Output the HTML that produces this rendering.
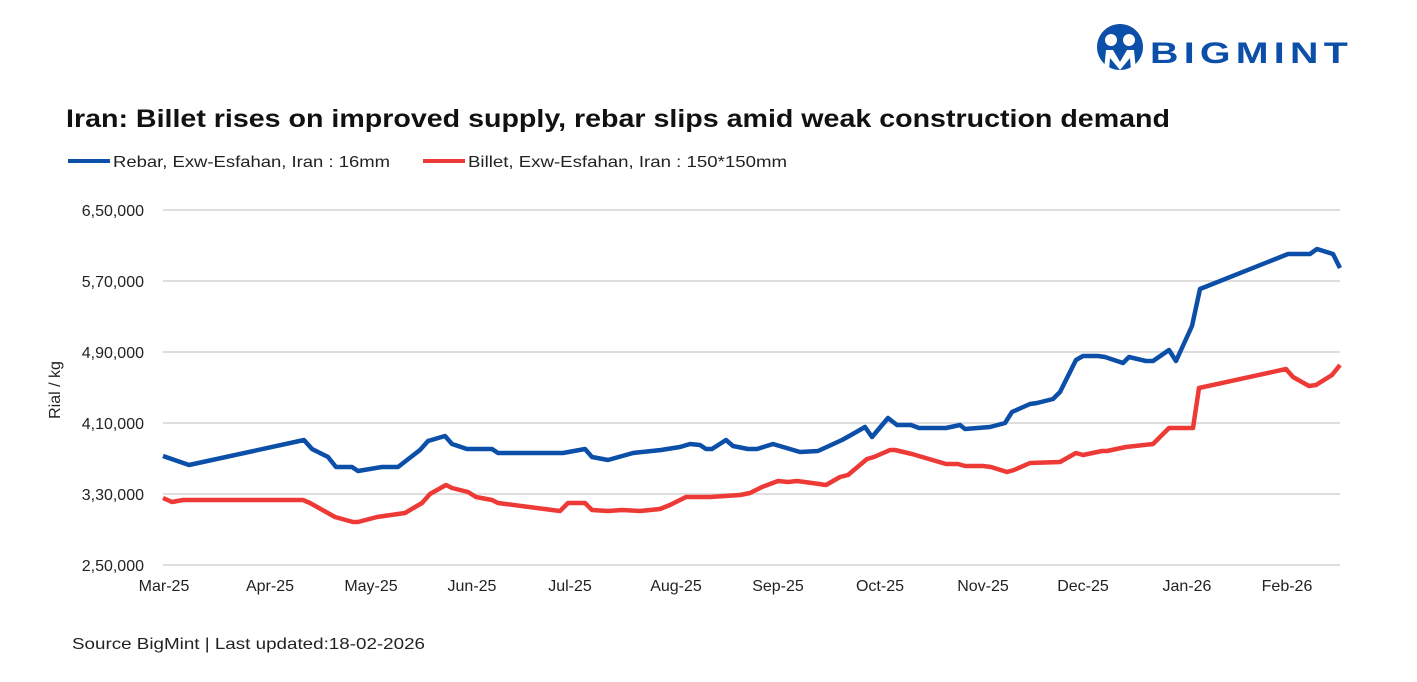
<!DOCTYPE html>
<html><head><meta charset="utf-8"><style>
body{margin:0;background:#fff;}
svg text{font-family:"Liberation Sans",Arial,sans-serif;}
</style></head><body>
<svg width="1417" height="677" viewBox="0 0 1417 677" xmlns="http://www.w3.org/2000/svg">
<rect width="1417" height="677" fill="#fff"/>
<circle cx="1120" cy="47" r="23" fill="#0b4fa8"/>
<circle cx="1111" cy="40" r="6" fill="#fff"/>
<circle cx="1129" cy="40" r="6" fill="#fff"/>
<path d="M1104 70 L1106 50 L1113 50 L1120 62 L1127 50 L1134 50 L1136 70 L1131 70 L1130 58 L1120 70 L1110 58 L1109 70 Z" fill="#fff"/>
<text x="1150" y="63" font-size="30" font-weight="bold" fill="#0b4fa8" textLength="203" lengthAdjust="spacingAndGlyphs" letter-spacing="4">BIGMINT</text>
<text x="66" y="127" font-size="25" font-weight="bold" fill="#111" textLength="1104" lengthAdjust="spacingAndGlyphs">Iran: Billet rises on improved supply, rebar slips amid weak construction demand</text>
<line x1="68" y1="161" x2="110" y2="161" stroke="#0b4fa8" stroke-width="4"/>
<text x="113" y="167" font-size="16" fill="#222" textLength="277" lengthAdjust="spacingAndGlyphs">Rebar, Exw-Esfahan, Iran : 16mm</text>
<line x1="423" y1="161" x2="465" y2="161" stroke="#ee3a36" stroke-width="4"/>
<text x="468" y="167" font-size="16" fill="#222" textLength="319" lengthAdjust="spacingAndGlyphs">Billet, Exw-Esfahan, Iran : 150*150mm</text>
<g stroke="#dedede" stroke-width="2">
<line x1="163" y1="210" x2="1340" y2="210"/><line x1="163" y1="281" x2="1340" y2="281"/>
<line x1="163" y1="352" x2="1340" y2="352"/><line x1="163" y1="423" x2="1340" y2="423"/>
<line x1="163" y1="494" x2="1340" y2="494"/><line x1="163" y1="565" x2="1340" y2="565"/>
</g>
<g font-size="16" fill="#222" text-anchor="end">
<text x="144" y="216">6,50,000</text><text x="144" y="287">5,70,000</text>
<text x="144" y="358">4,90,000</text><text x="144" y="429">4,10,000</text>
<text x="144" y="500">3,30,000</text><text x="144" y="571">2,50,000</text>
</g>
<text transform="translate(60,390) rotate(-90)" font-size="16" fill="#222" text-anchor="middle">Rial / kg</text>
<g font-size="16" fill="#222" text-anchor="middle">
<text x="164" y="591">Mar-25</text><text x="270" y="591">Apr-25</text><text x="371" y="591">May-25</text>
<text x="472" y="591">Jun-25</text><text x="570" y="591">Jul-25</text><text x="676" y="591">Aug-25</text>
<text x="778" y="591">Sep-25</text><text x="880" y="591">Oct-25</text><text x="983" y="591">Nov-25</text>
<text x="1083" y="591">Dec-25</text><text x="1187" y="591">Jan-26</text><text x="1287" y="591">Feb-26</text>
</g>
<polyline fill="none" stroke="#0b4fa8" stroke-width="4.5" stroke-linejoin="round" points="163,456 189,465 304,440 312,449 328,457 336,467 352,467 358,471 382,467 398,467 420,450 428,441 445,436 452,444 467,449 492,449 498,453 563,453 585,449 592,457 608,460 633,453 661,450 680,447 690,444 700,445 706,449 712,449 726,440 733,446 748,449 757,449 773,444 800,452 818,451 842,440 851,435 865,427 872,437 888,418 897,425 911,425 919,428 946,428 960,425 965,429 990,427 1005,423 1012,412 1030,404 1037,403 1053,399 1060,392 1076,360 1083,356 1098,356 1105,357 1123,363 1129,357 1146,361 1153,361 1169,350 1176,361 1192,326 1200,289 1288,254 1310,254 1317,249 1333,254 1340,268"/>
<polyline fill="none" stroke="#ee3a36" stroke-width="4.5" stroke-linejoin="round" points="163,498 172,502 183,500 303,500 310,503 335,517 353,522 358,522 377,517 405,513 422,503 430,494 446,485 452,488 468,492 476,497 492,500 498,503 560,511 568,503 585,503 592,510 608,511 622,510 640,511 660,509 670,505 686,497 710,497 740,495 750,493 762,487 778,481 788,482 797,481 812,483 826,485 840,477 848,475 867,459 874,457 890,450 895,450 912,454 946,464 958,464 965,466 983,466 991,467 1007,472 1014,470 1030,463 1060,462 1076,453 1083,455 1102,451 1107,451 1126,447 1153,444 1169,428 1193,428 1199,388 1286,369 1293,377 1309,386 1316,385 1332,375 1340,365"/>
<text x="72" y="649" font-size="16" fill="#222" textLength="353" lengthAdjust="spacingAndGlyphs">Source BigMint | Last updated:18-02-2026</text>
</svg>
</body></html>
